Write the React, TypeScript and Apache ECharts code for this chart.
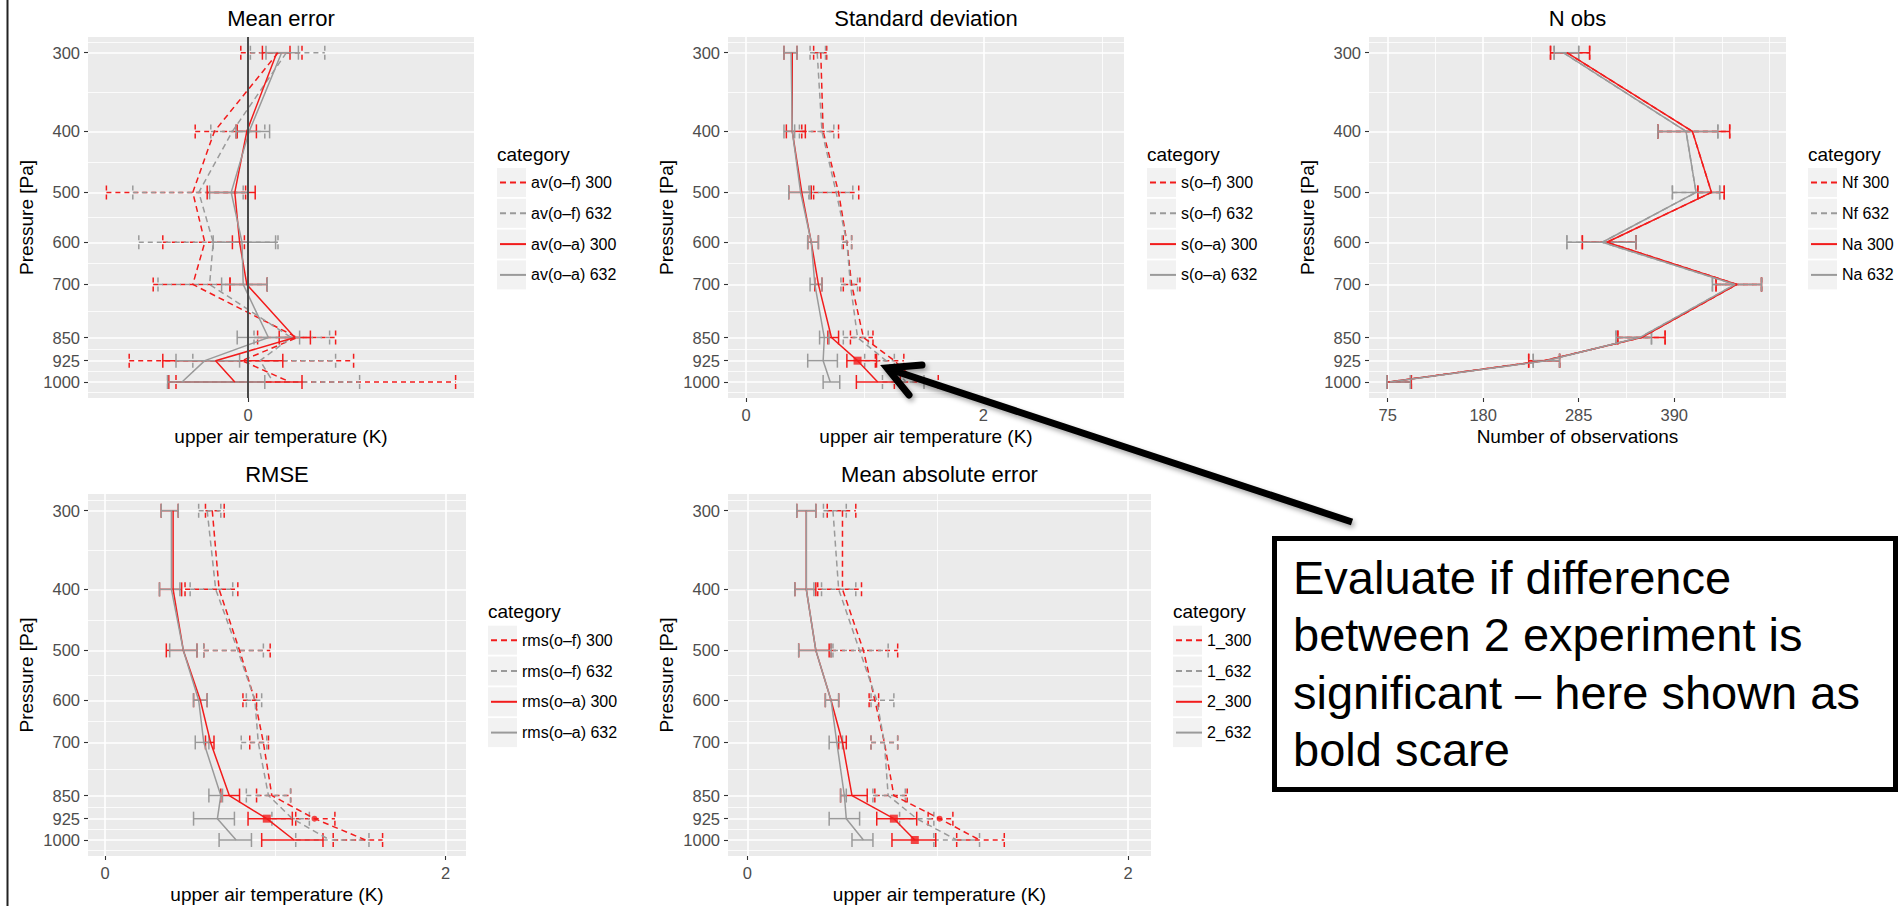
import React, { useEffect, useRef } from 'react';
import * as echarts from 'echarts';

// ---------------- data ----------------
const pressureLevels = [300, 400, 500, 600, 700, 850, 925, 1000];

// Mean error
const meanNames = ['av(o–f) 300', 'av(o–f) 632', 'av(o–a) 300', 'av(o–a) 632'];
const meanOF300 = [0.25, -0.28, -0.46, -0.36, -0.46, 0.41, -0.05, 0.35];
const meanOF300Lo = [-0.06, -0.44, -1.18, -0.71, -0.79, 0.08, -0.99, -0.6];
const meanOF300Hi = [0.45, -0.1, -0.02, -0.03, -0.15, 0.73, 0.88, 1.73];
const meanOF632 = [0.32, -0.13, -0.41, -0.29, -0.32, 0.36, 0.1, 0.21];
const meanOF632Lo = [0.02, -0.31, -0.96, -0.91, -0.75, 0.05, -0.46, -0.67];
const meanOF632Hi = [0.64, 0.14, -0.04, 0.25, 0.16, 0.68, 0.73, 0.93];
const meanOA300 = [0.24, -0.01, -0.11, -0.07, -0.01, 0.39, -0.27, -0.11];
const meanOA300Lo = [0.12, -0.09, -0.34, -0.13, -0.15, 0.26, -0.71, -0.66];
const meanOA300Hi = [0.35, 0.07, 0.06, 0.0, 0.16, 0.52, 0.29, 0.45];
const meanOA632 = [0.28, 0.01, -0.14, -0.05, -0.04, 0.17, -0.36, -0.55];
const meanOA632Lo = [0.15, -0.1, -0.32, -0.29, -0.22, -0.09, -0.6, -0.67];
const meanOA632Hi = [0.42, 0.18, 0.0, 0.23, 0.16, 0.43, -0.07, 0.14];
const meanTicks = [0];
const meanMinor: number[] = [];

// Standard deviation
const sdNames = ['s(o–f) 300', 's(o–f) 632', 's(o–a) 300', 's(o–a) 632'];
const sdOF300 = [0.63, 0.65, 0.78, 0.85, 0.89, 0.99, 1.25, 1.44];
const sdOF300Lo = [0.57, 0.47, 0.57, 0.82, 0.82, 0.88, 1.09, 1.25];
const sdOF300Hi = [0.68, 0.78, 0.95, 0.89, 0.96, 1.07, 1.33, 1.62];
const sdOF632 = [0.6, 0.64, 0.76, 0.85, 0.88, 0.94, 1.18, 1.35];
const sdOF632Lo = [0.54, 0.45, 0.53, 0.81, 0.8, 0.82, 1.0, 1.15];
const sdOF632Hi = [0.67, 0.74, 0.9, 0.89, 0.94, 1.03, 1.25, 1.5];
const sdOA300 = [0.39, 0.39, 0.47, 0.55, 0.61, 0.72, 0.94, 1.11];
const sdOA300Lo = [0.32, 0.34, 0.36, 0.52, 0.58, 0.69, 0.85, 0.93];
const sdOA300Hi = [0.43, 0.5, 0.55, 0.61, 0.64, 0.78, 1.1, 1.3];
const sdOA632 = [0.38, 0.39, 0.46, 0.55, 0.58, 0.66, 0.65, 0.71];
const sdOA632Lo = [0.32, 0.32, 0.36, 0.52, 0.54, 0.62, 0.52, 0.65];
const sdOA632Hi = [0.43, 0.41, 0.54, 0.61, 0.64, 0.7, 0.77, 0.79];
const sdTicks = [0, 2];
const sdMinor = [1, 3];
const sdBoldOA300 = [925];
const sdBoldOF300: number[] = [];

// Number of observations
const nobsNames = ['Nf 300', 'Nf 632', 'Na 300', 'Na 632'];
const nobsNa300 = [272, 410, 431, 316, 459, 354, 247, 76];
const nobsNa300Lo = [254, 372, 416, 289, 436, 328, 230, 74];
const nobsNa300Hi = [297, 451, 445, 348, 486, 380, 264, 101];
const nobsNa632 = [268, 403, 414, 311, 457, 352, 249, 77];
const nobsNa632Lo = [258, 372, 388, 272, 432, 326, 235, 74];
const nobsNa632Hi = [285, 438, 440, 348, 486, 365, 264, 100];
const nobsNf300 = nobsNa300;
const nobsNf300Lo = nobsNa300Lo;
const nobsNf300Hi = nobsNa300Hi;
const nobsNf632 = nobsNa632;
const nobsNf632Lo = nobsNa632Lo;
const nobsNf632Hi = nobsNa632Hi;
const nobsTicks = [75, 180, 285, 390];
const nobsMinor = [127.5, 232.5, 337.5, 442.5, 495];

// RMSE
const rmsNames = ['rms(o–f) 300', 'rms(o–f) 632', 'rms(o–a) 300', 'rms(o–a) 632'];
const rmsOF300 = [0.63, 0.67, 0.79, 0.88, 0.93, 0.98, 1.23, 1.53];
const rmsOF300Lo = [0.59, 0.47, 0.58, 0.81, 0.85, 0.89, 1.12, 1.34];
const rmsOF300Hi = [0.7, 0.78, 0.97, 0.89, 0.96, 1.09, 1.35, 1.63];
const rmsOF632 = [0.6, 0.65, 0.78, 0.88, 0.9, 0.96, 1.1, 1.32];
const rmsOF632Lo = [0.55, 0.5, 0.58, 0.83, 0.8, 0.83, 0.98, 1.12];
const rmsOF632Hi = [0.68, 0.75, 0.93, 0.92, 0.95, 1.09, 1.2, 1.55];
const rmsOA300 = [0.4, 0.4, 0.46, 0.56, 0.62, 0.73, 0.95, 1.11];
const rmsOA300Lo = [0.33, 0.32, 0.36, 0.52, 0.59, 0.68, 0.84, 0.92];
const rmsOA300Hi = [0.43, 0.45, 0.54, 0.6, 0.64, 0.79, 1.1, 1.28];
const rmsOA632 = [0.39, 0.39, 0.46, 0.55, 0.58, 0.68, 0.66, 0.77];
const rmsOA632Lo = [0.33, 0.32, 0.38, 0.52, 0.53, 0.61, 0.52, 0.67];
const rmsOA632Hi = [0.43, 0.44, 0.54, 0.6, 0.61, 0.69, 0.76, 0.86];
const rmsTicks = [0, 2];
const rmsMinor = [1];
const rmsBoldOA300 = [925];
const rmsBoldOF300 = [925];

// Mean absolute error
const maeNames = ['1_300', '1_632', '2_300', '2_632'];
const maeOF300 = [0.5, 0.5, 0.61, 0.67, 0.72, 0.77, 1.01, 1.22];
const maeOF300Lo = [0.42, 0.37, 0.44, 0.64, 0.65, 0.67, 0.95, 1.1];
const maeOF300Hi = [0.57, 0.6, 0.79, 0.69, 0.79, 0.84, 1.08, 1.35];
const maeOF632 = [0.45, 0.48, 0.59, 0.68, 0.72, 0.74, 0.89, 1.1];
const maeOF632Lo = [0.4, 0.39, 0.45, 0.65, 0.65, 0.66, 0.8, 0.98];
const maeOF632Hi = [0.52, 0.57, 0.74, 0.77, 0.79, 0.83, 0.98, 1.22];
const maeOA300 = [0.31, 0.31, 0.36, 0.44, 0.5, 0.55, 0.77, 0.88];
const maeOA300Lo = [0.26, 0.25, 0.27, 0.41, 0.48, 0.49, 0.68, 0.76];
const maeOA300Hi = [0.36, 0.36, 0.43, 0.48, 0.52, 0.63, 0.89, 0.99];
const maeOA632 = [0.31, 0.31, 0.36, 0.44, 0.47, 0.51, 0.52, 0.61];
const maeOA632Lo = [0.26, 0.25, 0.27, 0.41, 0.43, 0.49, 0.43, 0.55];
const maeOA632Hi = [0.36, 0.35, 0.44, 0.48, 0.5, 0.52, 0.59, 0.66];
const maeTicks = [0, 2];
const maeMinor = [1];
const maeBoldOA300 = [925, 1000];
const maeBoldOF300 = [925];

// annotation text
const noteLines = [
  'Evaluate if difference',
  'between 2 experiment is',
  'significant – here shown as',
  'bold scare',
];

// ---------------- styling / layout ----------------
const FONT = '"Liberation Sans", Arial, Helvetica, sans-serif';
const RED = '#F21C1C';
const GREY = '#9A9A9A';
const SERIES_STYLE = [
  { color: RED, dashed: true },
  { color: GREY, dashed: true },
  { color: RED, dashed: false },
  { color: GREY, dashed: false },
];

const panels = [
  {
    title: 'Mean error', names: meanNames, ticks: meanTicks, minor: meanMinor, xName: 'upper air temperature (K)',
    series: [[meanOF300, meanOF300Lo, meanOF300Hi], [meanOF632, meanOF632Lo, meanOF632Hi], [meanOA300, meanOA300Lo, meanOA300Hi], [meanOA632, meanOA632Lo, meanOA632Hi]],
    boldSolid: [] as number[], boldDashed: [] as number[], vline: true,
    box: { left: 88, top: 37, width: 386, height: 361 }, xMin: -1.3333, xMax: 1.8833, yMin: 5.6464, titleY: 18, legendX: 497, legendTitleY: 154,
  },
  {
    title: 'Standard deviation', names: sdNames, ticks: sdTicks, minor: sdMinor, xName: 'upper air temperature (K)',
    series: [[sdOF300, sdOF300Lo, sdOF300Hi], [sdOF632, sdOF632Lo, sdOF632Hi], [sdOA300, sdOA300Lo, sdOA300Hi], [sdOA632, sdOA632Lo, sdOA632Hi]],
    boldSolid: sdBoldOA300, boldDashed: sdBoldOF300, vline: false,
    box: { left: 728, top: 37, width: 396, height: 361 }, xMin: -0.1517, xMax: 3.1853, yMin: 5.6464, titleY: 18, legendX: 1147, legendTitleY: 154,
  },
  {
    title: 'N obs', names: nobsNames, ticks: nobsTicks, minor: nobsMinor, xName: 'Number of observations',
    series: [[nobsNf300, nobsNf300Lo, nobsNf300Hi], [nobsNf632, nobsNf632Lo, nobsNf632Hi], [nobsNa300, nobsNa300Lo, nobsNa300Hi], [nobsNa632, nobsNa632Lo, nobsNa632Hi]],
    boldSolid: [] as number[], boldDashed: [] as number[], vline: false,
    box: { left: 1369, top: 37, width: 417, height: 361 }, xMin: 54.44, xMax: 512.9, yMin: 5.6464, titleY: 18, legendX: 1808, legendTitleY: 154,
  },
  {
    title: 'RMSE', names: rmsNames, ticks: rmsTicks, minor: rmsMinor, xName: 'upper air temperature (K)',
    series: [[rmsOF300, rmsOF300Lo, rmsOF300Hi], [rmsOF632, rmsOF632Lo, rmsOF632Hi], [rmsOA300, rmsOA300Lo, rmsOA300Hi], [rmsOA632, rmsOA632Lo, rmsOA632Hi]],
    boldSolid: rmsBoldOA300, boldDashed: rmsBoldOF300, vline: false,
    box: { left: 88, top: 494, width: 378, height: 362 }, xMin: -0.0998, xMax: 2.1198, yMin: 5.6428, titleY: 474, legendX: 488, legendTitleY: 611.7,
  },
  {
    title: 'Mean absolute error', names: maeNames, ticks: maeTicks, minor: maeMinor, xName: 'upper air temperature (K)',
    series: [[maeOF300, maeOF300Lo, maeOF300Hi], [maeOF632, maeOF632Lo, maeOF632Hi], [maeOA300, maeOA300Lo, maeOA300Hi], [maeOA632, maeOA632Lo, maeOA632Hi]],
    boldSolid: maeBoldOA300, boldDashed: maeBoldOF300, vline: false,
    box: { left: 728, top: 494, width: 423, height: 362 }, xMin: -0.1014, xMax: 2.1208, yMin: 5.6428, titleY: 474, legendX: 1173, legendTitleY: 611.7,
  },
];

const Y_MAX = 6.9663;
const majorLn = pressureLevels.map((p) => Math.log(p));
// ggplot-style minor breaks: midpoints in log space (with one extension each side)
const minorLn = (() => {
  const b = majorLn.slice();
  const lastStep = b[b.length - 1] - b[b.length - 2];
  const ext = [b[0] - lastStep, ...b, b[b.length - 1] + lastStep];
  const out: number[] = [];
  for (let i = 0; i < ext.length - 1; i++) out.push((ext[i] + ext[i + 1]) / 2);
  return out;
})();

const errRender = (color: string, dashed: boolean) => (params: any, api: any) => {
  const y = api.value(2);
  const a = api.coord([api.value(0), y]);
  const b = api.coord([api.value(1), y]);
  const h = 7;
  const style: any = { stroke: color, lineWidth: 1.5, fill: 'none' };
  if (dashed) style.lineDash = [5, 4];
  return {
    type: 'group',
    children: [
      { type: 'line', shape: { x1: a[0], y1: a[1], x2: b[0], y2: b[1] }, style },
      { type: 'line', shape: { x1: a[0], y1: a[1] - h, x2: a[0], y2: a[1] + h }, style },
      { type: 'line', shape: { x1: b[0], y1: b[1] - h, x2: b[0], y2: b[1] + h }, style },
    ],
  };
};

function buildOption() {
  const grid: any[] = [];
  const xAxis: any[] = [];
  const yAxis: any[] = [];
  const series: any[] = [];
  const legend: any[] = [];
  const graphic: any[] = [];

  panels.forEach((p, g) => {
    grid.push({ ...p.box, show: true, backgroundColor: '#EBEBEB', borderWidth: 0, containLabel: false });
    const xMajor = 2 * g;
    const yMajor = 2 * g;
    xAxis.push({
      type: 'value', gridIndex: g, min: p.xMin, max: p.xMax, position: 'bottom',
      axisLine: { show: false, onZero: false },
      axisTick: { show: true, length: 4, customValues: p.ticks, lineStyle: { color: '#333', width: 1.1 } },
      axisLabel: { customValues: p.ticks, color: '#4D4D4D', fontSize: 16.5, margin: 8, fontFamily: FONT },
      splitLine: { show: true, lineStyle: { color: '#FFFFFF', width: 1.6 } },
      name: p.xName, nameLocation: 'middle', nameGap: 28.5,
      nameTextStyle: { color: '#000', fontSize: 19, fontFamily: FONT },
    });
    xAxis.push({
      type: 'value', gridIndex: g, min: p.xMin, max: p.xMax, position: 'top',
      axisLine: { show: false, onZero: false },
      axisTick: { show: false, customValues: p.minor.length ? p.minor : [p.xMin - 10] },
      axisLabel: { show: false, customValues: p.minor.length ? p.minor : [p.xMin - 10] },
      splitLine: { show: p.minor.length > 0, lineStyle: { color: '#FFFFFF', width: 0.8 } },
    });
    yAxis.push({
      type: 'value', gridIndex: g, min: p.yMin, max: Y_MAX, inverse: true, position: 'left',
      axisLine: { show: false, onZero: false },
      axisTick: { show: true, length: 4, customValues: majorLn, lineStyle: { color: '#333', width: 1.1 } },
      axisLabel: {
        customValues: majorLn, color: '#4D4D4D', fontSize: 16.5, margin: 8, fontFamily: FONT,
        formatter: (v: number) => String(Math.round(Math.exp(v))),
      },
      splitLine: { show: true, lineStyle: { color: '#FFFFFF', width: 1.6 } },
      name: 'Pressure [Pa]', nameLocation: 'middle', nameGap: 52, nameRotate: 90,
      nameTextStyle: { color: '#000', fontSize: 19, fontFamily: FONT },
    });
    yAxis.push({
      type: 'value', gridIndex: g, min: p.yMin, max: Y_MAX, inverse: true, position: 'right',
      axisLine: { show: false, onZero: false },
      axisTick: { show: false, customValues: minorLn },
      axisLabel: { show: false, customValues: minorLn },
      splitLine: { show: true, lineStyle: { color: '#FFFFFF', width: 0.8 } },
    });

    p.series.forEach(([vals, lo, hi], s) => {
      const st = SERIES_STYLE[s];
      const line: any = {
        type: 'line', name: p.names[s], xAxisIndex: xMajor, yAxisIndex: yMajor,
        data: pressureLevels.map((lev, i) => [vals[i], Math.log(lev)]),
        symbol: 'none', showSymbol: false, silent: true, z: 3,
        lineStyle: { color: st.color, width: 1.5, type: st.dashed ? [6, 4] : 'solid' },
        itemStyle: { color: st.color },
      };
      if (p.vline && s === 3) {
        line.markLine = {
          silent: true, symbol: ['none', 'none'], label: { show: false },
          lineStyle: { color: '#4A4A4A', width: 2, type: 'solid' },
          data: [{ xAxis: 0 }],
        };
      }
      series.push(line);
      series.push({
        type: 'custom', name: `err-${g}-${s}`, xAxisIndex: xMajor, yAxisIndex: yMajor, silent: true, z: 3,
        data: pressureLevels.map((lev, i) => [lo[i], hi[i], Math.log(lev)]),
        encode: { x: [0, 1], y: 2 },
        renderItem: errRender(st.color, st.dashed),
      });
    });

    const [dr, , sr] = p.series;
    if (p.boldSolid.length) {
      series.push({
        type: 'scatter', name: `bold-s-${g}`, xAxisIndex: xMajor, yAxisIndex: yMajor, silent: true, z: 4,
        symbol: 'rect', symbolSize: 8, itemStyle: { color: RED },
        data: p.boldSolid.map((lev) => [sr[0][pressureLevels.indexOf(lev)], Math.log(lev)]),
      });
    }
    if (p.boldDashed.length) {
      series.push({
        type: 'scatter', name: `bold-d-${g}`, xAxisIndex: xMajor, yAxisIndex: yMajor, silent: true, z: 4,
        symbol: 'circle', symbolSize: 6, itemStyle: { color: RED },
        data: p.boldDashed.map((lev) => [dr[0][pressureLevels.indexOf(lev)], Math.log(lev)]),
      });
    }

    // legend
    const firstKeyCenter = p.legendTitleY + 28.5;
    legend.push({
      orient: 'vertical', left: p.legendX + 2, top: firstKeyCenter - 8, padding: 0,
      itemWidth: 26, itemHeight: 14, itemGap: 14.8, selectedMode: false,
      data: p.names,
      itemStyle: { color: 'rgba(0,0,0,0)', borderColor: 'rgba(0,0,0,0)', borderWidth: 0, opacity: 0 },
      textStyle: { color: '#000', fontSize: 16, fontFamily: FONT, lineHeight: 16 },
    });
    for (let k = 0; k < 4; k++) {
      graphic.push({
        type: 'rect', z: 0, silent: true,
        shape: { x: p.legendX, y: firstKeyCenter - 14.5 + k * 30.8, width: 29, height: 29 },
        style: { fill: '#F2F2F2' },
      });
    }
    graphic.push({
      type: 'text', x: p.legendX, y: p.legendTitleY, silent: true,
      style: { text: 'category', fontSize: 19, fontFamily: FONT, fill: '#000', align: 'left', verticalAlign: 'middle' },
    });
    // panel title
    graphic.push({
      type: 'text', x: p.box.left + p.box.width / 2, y: p.titleY, silent: true,
      style: { text: p.title, fontSize: 22, fontFamily: FONT, fill: '#000', align: 'center', verticalAlign: 'middle' },
    });
  });

  // left frame line
  graphic.push({ type: 'line', silent: true, shape: { x1: 7.5, y1: 0, x2: 7.5, y2: 906 }, style: { stroke: '#222', lineWidth: 2 } });

  // arrow
  const arrowStyle = {
    stroke: '#000', lineWidth: 7, fill: 'none',
    shadowBlur: 5, shadowColor: 'rgba(0,0,0,0.35)', shadowOffsetX: 2, shadowOffsetY: 3,
  };
  graphic.push({ type: 'line', z: 100, silent: true, shape: { x1: 1352, y1: 522, x2: 889, y2: 369 }, style: { ...arrowStyle, lineCap: 'butt' } });
  graphic.push({
    type: 'polyline', z: 100, silent: true,
    shape: { points: [[922, 365], [887, 368], [909, 395]] },
    style: { ...arrowStyle, lineCap: 'round', lineJoin: 'miter' },
  });

  // annotation box
  graphic.push({
    type: 'rect', z: 100, silent: true,
    shape: { x: 1274.5, y: 538.5, width: 621, height: 251 },
    style: { fill: '#FFFFFF', stroke: '#000', lineWidth: 5 },
  });
  noteLines.forEach((t, i) => {
    graphic.push({
      type: 'text', z: 101, silent: true, x: 1293, y: 577 + i * 57.5,
      style: { text: t, fontSize: 47, fontFamily: FONT, fill: '#000', align: 'left', verticalAlign: 'middle' },
    });
  });

  return {
    animation: false,
    backgroundColor: '#FFFFFF',
    grid, xAxis, yAxis, series, legend, graphic,
  };
}

export default function App() {
  const ref = useRef<HTMLDivElement>(null);
  useEffect(() => {
    if (!ref.current) return;
    const chart = echarts.init(ref.current, undefined, { renderer: 'svg' });
    chart.setOption(buildOption() as any);
    return () => chart.dispose();
  }, []);
  return <div ref={ref} style={{ position: 'absolute', left: 0, top: 0, width: 1901, height: 906 }} />;
}
